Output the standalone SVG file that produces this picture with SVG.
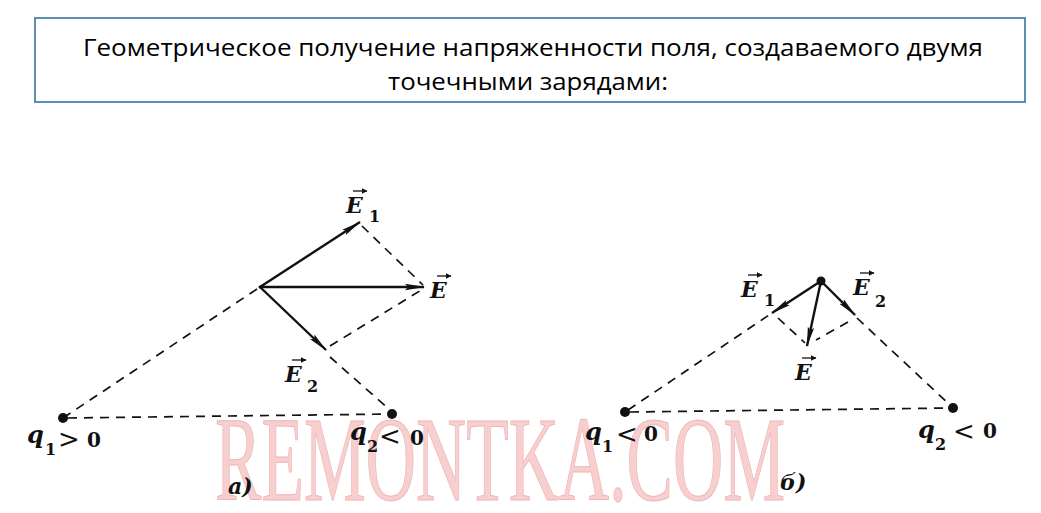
<svg xmlns="http://www.w3.org/2000/svg" width="1041" height="513" viewBox="0 0 1041 513">
<style>
.title{font-family:"Open Sans","Noto Sans","DejaVu Sans",sans-serif;font-size:24px;fill:#000}
.dash{stroke:#111;stroke-width:1.7;stroke-dasharray:9 7;fill:none}
.vec{stroke:#111;stroke-width:2.4;fill:none;marker-end:url(#ah)}
.ov{stroke:#111;stroke-width:1.3;fill:none;marker-end:url(#sm)}
.lbl{font-family:"DejaVu Serif","Liberation Serif",serif;font-weight:bold;fill:#111}
.E{font-size:22px;font-style:italic}
.sub{font-size:16px}
.q{font-size:24px;font-style:italic}
.op{font-size:20px}
.cmp{font-family:"DejaVu Serif","Liberation Serif",serif;font-size:26px;fill:#111}
.pt{fill:#111}
.wm{font-family:"Liberation Serif","DejaVu Serif",serif;font-size:120px;fill:#f4a8a8;stroke:#e07878;stroke-width:1;opacity:0.55}
</style>
<defs>
<marker id="ah" viewBox="0 0 20 8" refX="19" refY="4" markerWidth="20" markerHeight="8" markerUnits="userSpaceOnUse" orient="auto">
<path d="M0,0.8 L20,4 L0,7.2 L3,4 Z" fill="#111"/>
</marker>
<marker id="sm" viewBox="0 0 6 6" refX="5.5" refY="3" markerWidth="6" markerHeight="6" markerUnits="userSpaceOnUse" orient="auto">
<path d="M0,0 L6,3 L0,6 Z" fill="#111"/>
</marker>
</defs>
<rect width="1041" height="513" fill="#fff"/>
<text class="wm" x="215" y="500" textLength="570" lengthAdjust="spacingAndGlyphs">REMONTKA.COM</text>
<g id="title">
<rect x="35" y="18" width="990" height="84" fill="#fff" stroke="#5d8fae" stroke-width="2"/>
<text class="title" x="533" y="56" text-anchor="middle" textLength="900" lengthAdjust="spacingAndGlyphs">Геометрическое получение напряженности поля, создаваемого двумя</text>
<text class="title" x="528" y="90" text-anchor="middle" textLength="280" lengthAdjust="spacingAndGlyphs">точечными зарядами:</text>
</g>
<g id="connectors">
<line class="dash" x1="63" y1="418" x2="260" y2="287"/>
<line class="dash" x1="68" y1="418" x2="392" y2="414"/>
<line class="dash" x1="362" y1="226" x2="423" y2="285"/>
<line class="dash" x1="330" y1="346" x2="423" y2="289"/>
<line class="dash" x1="330" y1="357" x2="390" y2="410"/>
<line class="vec" x1="260" y1="287" x2="360" y2="222"/>
<line class="vec" x1="260" y1="287" x2="424" y2="287"/>
<line class="vec" x1="260" y1="287" x2="326" y2="350"/>
<line class="dash" x1="628" y1="410" x2="772" y2="313"/>
<line class="dash" x1="630" y1="412" x2="952" y2="408"/>
<line class="dash" x1="857" y1="318" x2="950" y2="405"/>
<line class="dash" x1="778" y1="318" x2="805" y2="343"/>
<line class="dash" x1="848" y1="322" x2="816" y2="340"/>
<line class="vec" x1="821" y1="281" x2="772" y2="313"/>
<line class="vec" x1="821" y1="281" x2="855" y2="315"/>
<line class="vec" x1="821" y1="281" x2="807" y2="346"/>
</g>
<g id="figA">
<circle class="pt" cx="63" cy="418" r="5"/>
<circle class="pt" cx="392" cy="414" r="5"/>
<circle class="pt" cx="260" cy="287" r="1.5"/>
<text class="lbl E" x="346" y="213">E</text><line class="ov" x1="353" y1="191" x2="367" y2="191"/><text class="lbl sub" x="369" y="222">1</text>
<text class="lbl E" x="430" y="298">E</text><line class="ov" x1="437" y1="276" x2="451" y2="276"/>
<text class="lbl E" x="285" y="382">E</text><line class="ov" x1="292" y1="360" x2="306" y2="360"/><text class="lbl sub" x="307" y="392">2</text>
<text class="lbl q" x="27" y="443">q</text><text class="lbl sub" x="45" y="455">1</text><text class="cmp" x="58" y="448">&gt;</text><text class="lbl op" x="87" y="447">0</text>
<text class="lbl q" x="350" y="440">q</text><text class="lbl sub" x="367" y="452">2</text><text class="cmp" x="379" y="445">&lt;</text><text class="lbl op" x="410" y="445">0</text>
<text class="lbl" x="228" y="494" font-size="22" font-style="italic">а)</text>
</g>
<g id="figB">
<circle class="pt" cx="625" cy="412" r="5"/>
<circle class="pt" cx="953" cy="408" r="5"/>
<circle class="pt" cx="821" cy="281" r="4.5"/>
<text class="lbl E" x="741" y="297">E</text><line class="ov" x1="748" y1="275" x2="762" y2="275"/><text class="lbl sub" x="764" y="306">1</text>
<text class="lbl E" x="853" y="295">E</text><line class="ov" x1="860" y1="273" x2="874" y2="273"/><text class="lbl sub" x="875" y="307">2</text>
<text class="lbl E" x="795" y="380">E</text><line class="ov" x1="802" y1="358" x2="816" y2="358"/>
<text class="lbl q" x="585" y="440">q</text><text class="lbl sub" x="602" y="452">1</text><text class="cmp" x="616" y="443">&lt;</text><text class="lbl op" x="644" y="441">0</text>
<text class="lbl q" x="918" y="438">q</text><text class="lbl sub" x="935" y="450">2</text><text class="cmp" x="953" y="440">&lt;</text><text class="lbl op" x="983" y="438">0</text>
<text class="lbl" x="780" y="490" font-size="22" font-style="italic">б)</text>
</g>
</svg>
